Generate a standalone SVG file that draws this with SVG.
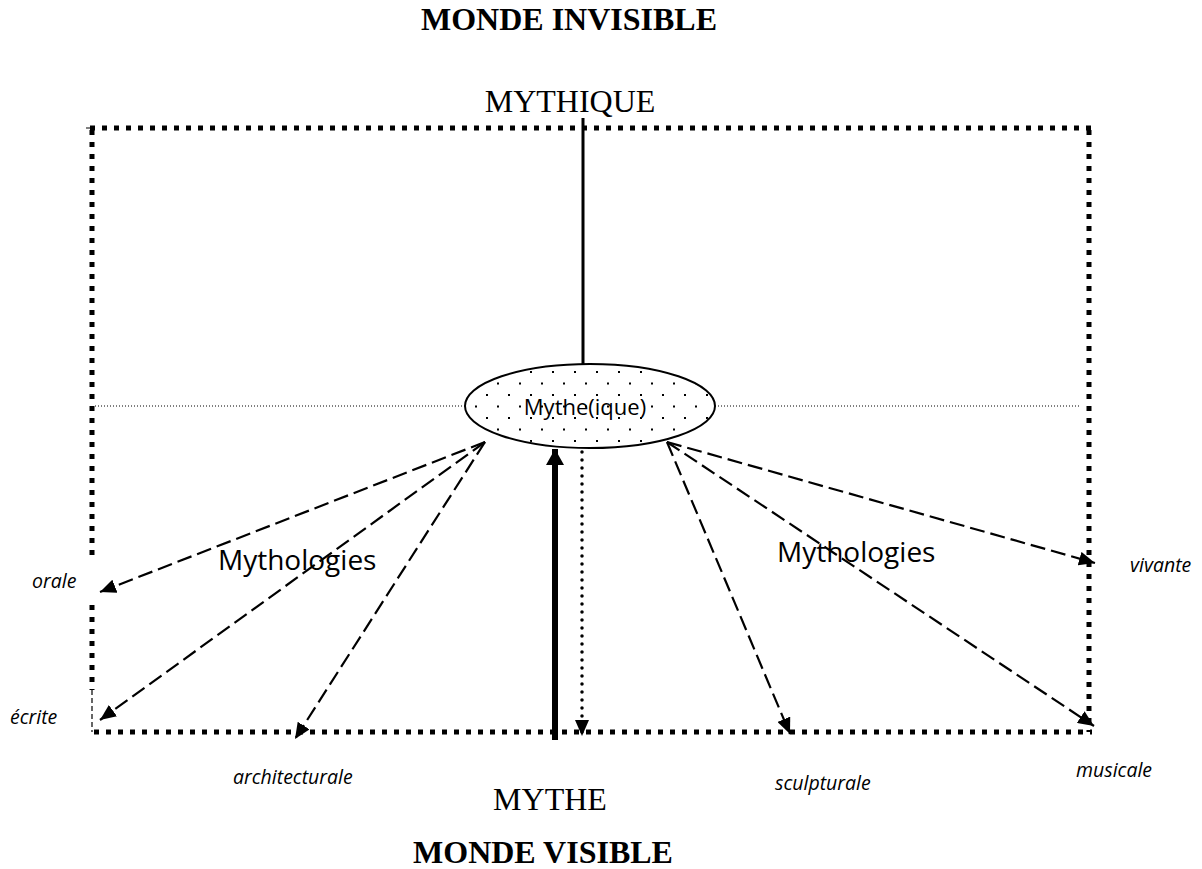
<svg xmlns="http://www.w3.org/2000/svg" width="1202" height="869" viewBox="0 0 1202 869">
<style>
.serif{font-family:"Liberation Serif","Times New Roman",serif;fill:#000}
.big{font-size:32px}
.bold{font-weight:bold}
.sans{font-family:"Open Sans","Liberation Sans",sans-serif;fill:#000}
.lab{font-size:19.5px;font-style:italic}
.myth{font-size:28px}
.frame{fill:none;stroke:#000;stroke-width:5;stroke-dasharray:5 7}
.dash{fill:none;stroke:#000;stroke-width:2.2;stroke-dasharray:15 6}
.hdot{fill:none;stroke:#000;stroke-width:1;stroke-dasharray:1 2}
</style>
<defs>
<pattern id="dots" patternUnits="userSpaceOnUse" x="2" y="3" width="22" height="23">
<rect x="0" y="0" width="2" height="2" fill="#000"/>
<rect x="11" y="11.5" width="2" height="2" fill="#000"/>
</pattern>
<marker id="ah" viewBox="0 0 16 14" refX="16" refY="7" markerWidth="16" markerHeight="14" markerUnits="userSpaceOnUse" orient="auto">
<path d="M0,0 L16,7 L0,14 z" fill="#000"/>
</marker>
<marker id="ahBig" viewBox="0 0 16 18" refX="16" refY="9" markerWidth="16" markerHeight="18" markerUnits="userSpaceOnUse" orient="auto">
<path d="M0,0 L16,9 L0,18 z" fill="#000"/>
</marker>
</defs>

<g id="titles">
<text class="serif big bold" x="569" y="30" text-anchor="middle">MONDE INVISIBLE</text>
<text class="serif big" x="570" y="112" text-anchor="middle">MYTHIQUE</text>
<text class="serif big" x="550" y="810" text-anchor="middle">MYTHE</text>
<text class="serif big bold" x="543" y="863" text-anchor="middle">MONDE VISIBLE</text>
</g>

<g id="frame">
<line class="frame" x1="90" y1="128" x2="1092" y2="128"/>
<line class="frame" x1="92" y1="130" x2="92" y2="557"/>
<line class="frame" x1="92" y1="605" x2="92" y2="690"/>
<line x1="92" y1="690" x2="92" y2="732" stroke="#000" stroke-width="1.2" stroke-dasharray="5 3"/>
<line class="frame" x1="94" y1="732" x2="1092" y2="732"/>
<line class="frame" x1="1089" y1="130" x2="1089" y2="732"/>
<line x1="86" y1="128" x2="90" y2="128" stroke="#000" stroke-width="1"/>
</g>

<g id="connectors">
<line class="hdot" x1="95" y1="406" x2="465" y2="406"/>
<line class="hdot" x1="715" y1="406" x2="1080" y2="406"/>
<line x1="583" y1="118" x2="583" y2="378" stroke="#000" stroke-width="3"/>
<line x1="555" y1="740" x2="555" y2="449" stroke="#000" stroke-width="6" marker-end="url(#ahBig)"/>
<line x1="582" y1="452" x2="582" y2="736" stroke="#000" stroke-width="3.5" stroke-linecap="round" stroke-dasharray="0 8" marker-end="url(#ah)"/>
<line class="dash" x1="485" y1="442" x2="100" y2="592" marker-end="url(#ah)"/>
<line class="dash" x1="485" y1="442" x2="100" y2="720" marker-end="url(#ah)"/>
<line class="dash" x1="485" y1="442" x2="295" y2="739" marker-end="url(#ah)"/>
<line class="dash" x1="667" y1="442" x2="790" y2="734" marker-end="url(#ah)"/>
<line class="dash" x1="667" y1="442" x2="1094" y2="726" marker-end="url(#ah)"/>
<line class="dash" x1="667" y1="442" x2="1095" y2="563" marker-end="url(#ah)"/>
</g>

<g id="ellipse-node">
<ellipse cx="590" cy="406" rx="125" ry="42" fill="#fff" stroke="#000" stroke-width="2"/>
<ellipse cx="590" cy="406" rx="124" ry="41" fill="url(#dots)"/>
<text class="sans" x="585" y="415" font-size="22" text-anchor="middle">Mythe(ique)</text>
</g>

<g id="mythologies-left"><text class="sans myth" x="218" y="570">Mythologies</text></g>
<g id="mythologies-right"><text class="sans myth" x="777" y="562">Mythologies</text></g>

<g id="labels">
<text class="sans lab" x="32" y="588">orale</text>
<text class="sans lab" x="10" y="724">écrite</text>
<text class="sans lab" x="233" y="784">architecturale</text>
<text class="sans lab" x="775" y="790">sculpturale</text>
<text class="sans lab" x="1130" y="572">vivante</text>
<text class="sans lab" x="1076" y="777">musicale</text>
</g>
</svg>
